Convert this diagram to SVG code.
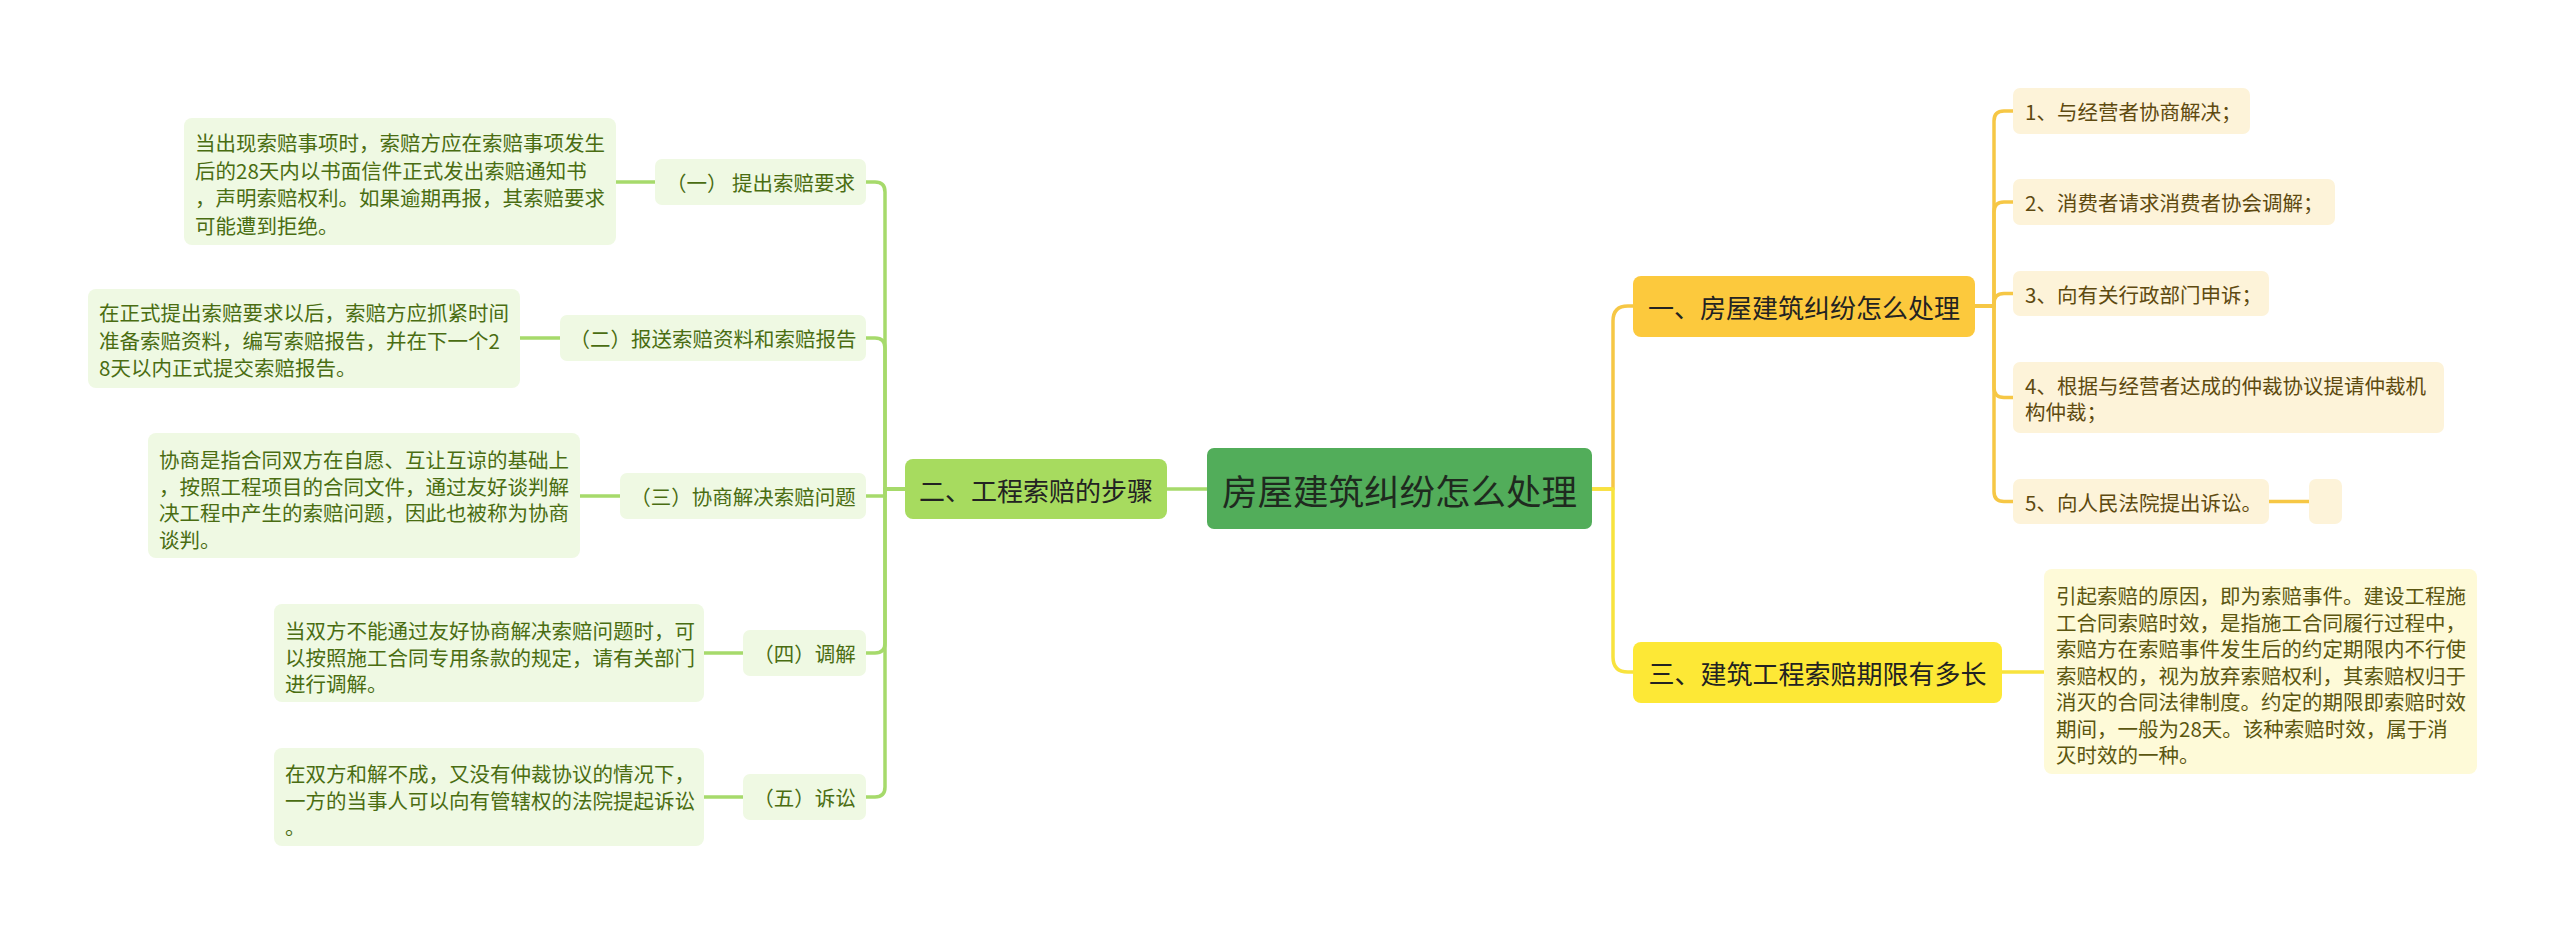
<svg xmlns="http://www.w3.org/2000/svg" width="2560" height="935" viewBox="0 0 2560 935">
<style>
text{font-family:"Noto Sans CJK SC","Noto Sans",sans-serif;dominant-baseline:central}
.root rect{fill:#52ad5a}
.root text{font-size:35.5px;fill:#1f2a1f;text-anchor:middle}
.b1 rect{fill:#fcc93d}
.b3 rect{fill:#fde836}
.b2 rect{fill:#a7db5f}
.br text{font-size:26px;fill:#222;text-anchor:middle}
.it rect{fill:#fdf3d9}
.it text{font-size:20.5px;fill:#5e4a10}
.yd rect{fill:#fefad8}
.yd text{font-size:20.5px;fill:#5b5610}
.gs rect{fill:#eff9e3}
.gs text{font-size:20.5px;fill:#4a6d12;text-anchor:middle}
.gd rect{fill:#eff9e3}
.gd text{font-size:20.5px;fill:#4a6d12}
.c path{fill:none;stroke-width:3.5;stroke-linecap:round;stroke-linejoin:round}
.cg path{stroke:#a6da6b}
.co path{stroke:#f6c745}
.cy path{stroke:#f8e33e}
</style>
<rect width="2560" height="935" fill="#ffffff"/>
<g id="connectors" class="c">
<g class="cg">
<path d="M1207,489 H1167"/>
<path d="M905,489 H885 V192 Q885,182 875,182 H866"/>
<path d="M905,489 H885 V348 Q885,338 875,338 H866"/>
<path d="M905,489 H885 V496 H866"/>
<path d="M905,489 H885 V643 Q885,653 875,653 H866"/>
<path d="M905,489 H885 V787 Q885,797 875,797 H866"/>
<path d="M655,182 H616"/>
<path d="M560,338 H520"/>
<path d="M620,496 H580"/>
<path d="M743,653 H704"/>
<path d="M743,797 H704"/>
</g>
<g class="co">
<path d="M1592,489 H1613 V321 Q1613,306 1628,306 H1633"/>
<path d="M1975,306 H1994 V121 Q1994,111 2004,111 H2013"/>
<path d="M1975,306 H1994 V212 Q1994,202 2004,202 H2013"/>
<path d="M1975,306 H1994 V303.5 Q1994,293.5 2004,293.5 H2013"/>
<path d="M1975,306 H1994 V387.5 Q1994,397.5 2004,397.5 H2013"/>
<path d="M1975,306 H1994 V491.5 Q1994,501.5 2004,501.5 H2013"/>
<path d="M2269,501.5 H2309"/>
</g>
<g class="cy">
<path d="M1592,489 H1613 V657 Q1613,672 1628,672 H1633"/>
<path d="M2002,672 H2044"/>
</g>
</g>
<g id="root" class="root"><rect x="1207" y="448" width="385" height="81" rx="7"/><text x="1399.5" y="489">房屋建筑纠纷怎么处理</text></g>
<g id="b1" class="br b1"><rect x="1633" y="276" width="342" height="61" rx="8"/><text x="1804" y="306.5">一、房屋建筑纠纷怎么处理</text></g>
<g id="b3" class="br b3"><rect x="1633" y="642" width="369" height="61" rx="8"/><text x="1817.5" y="672.5">三、建筑工程索赔期限有多长</text></g>
<g id="b2" class="br b2"><rect x="905" y="459" width="262" height="60" rx="8"/><text x="1036" y="489">二、工程索赔的步骤</text></g>
<g id="i1" class="it"><rect x="2013" y="88" width="237" height="46" rx="7"/><text x="2025" y="111">1、与经营者协商解决；</text></g>
<g id="i2" class="it"><rect x="2013" y="179" width="322" height="46" rx="7"/><text x="2025" y="202">2、消费者请求消费者协会调解；</text></g>
<g id="i3" class="it"><rect x="2013" y="271" width="256" height="45" rx="7"/><text x="2025" y="293.5">3、向有关行政部门申诉；</text></g>
<g id="i4" class="it"><rect x="2013" y="362" width="431" height="71" rx="7"/><text x="2025" y="385">4、根据与经营者达成的仲裁协议提请仲裁机</text><text x="2025" y="411">构仲裁；</text></g>
<g id="i5" class="it"><rect x="2013" y="479" width="256" height="45" rx="7"/><text x="2025" y="501.5">5、向人民法院提出诉讼。</text></g>
<g id="i5e" class="it"><rect x="2309" y="479" width="33" height="45" rx="7"/></g>
<g id="d3" class="yd"><rect x="2044" y="569" width="433" height="205" rx="8"/>
<text x="2056" y="595">引起索赔的原因，即为索赔事件。建设工程施</text>
<text x="2056" y="621.5">工合同索赔时效，是指施工合同履行过程中，</text>
<text x="2056" y="648">索赔方在索赔事件发生后的约定期限内不行使</text>
<text x="2056" y="674.5">索赔权的，视为放弃索赔权利，其索赔权归于</text>
<text x="2056" y="701">消灭的合同法律制度。约定的期限即索赔时效</text>
<text x="2056" y="727.5">期间，一般为28天。该种索赔时效，属于消</text>
<text x="2056" y="754">灭时效的一种。</text>
</g>
<g id="s1" class="gs"><rect x="655" y="159" width="211" height="46" rx="7"/><text x="760.5" y="182">（一） 提出索赔要求</text></g>
<g id="s2" class="gs"><rect x="560" y="315" width="306" height="46" rx="7"/><text x="713" y="338">（二）报送索赔资料和索赔报告</text></g>
<g id="s3" class="gs"><rect x="620" y="473" width="246" height="46" rx="7"/><text x="743" y="496">（三）协商解决索赔问题</text></g>
<g id="s4" class="gs"><rect x="743" y="630" width="123" height="46" rx="7"/><text x="804.5" y="653">（四）调解</text></g>
<g id="s5" class="gs"><rect x="743" y="774" width="123" height="46" rx="7"/><text x="804.5" y="797">（五）诉讼</text></g>
<g id="g1" class="gd"><rect x="184" y="118" width="432" height="127" rx="8"/>
<text x="195" y="142">当出现索赔事项时，索赔方应在索赔事项发生</text>
<text x="195" y="169.5">后的28天内以书面信件正式发出索赔通知书</text>
<text x="195" y="197">，声明索赔权利。如果逾期再报，其索赔要求</text>
<text x="195" y="224.5">可能遭到拒绝。</text>
</g>
<g id="g2" class="gd"><rect x="88" y="289" width="432" height="99" rx="8"/>
<text x="99" y="312">在正式提出索赔要求以后，索赔方应抓紧时间</text>
<text x="99" y="339.5">准备索赔资料，编写索赔报告，并在下一个2</text>
<text x="99" y="367">8天以内正式提交索赔报告。</text>
</g>
<g id="g3" class="gd"><rect x="148" y="433" width="432" height="125" rx="8"/>
<text x="159" y="459">协商是指合同双方在自愿、互让互谅的基础上</text>
<text x="159" y="485.5">，按照工程项目的合同文件，通过友好谈判解</text>
<text x="159" y="512">决工程中产生的索赔问题，因此也被称为协商</text>
<text x="159" y="538.5">谈判。</text>
</g>
<g id="g4" class="gd"><rect x="274" y="604" width="430" height="98" rx="8"/>
<text x="285" y="630">当双方不能通过友好协商解决索赔问题时，可</text>
<text x="285" y="656.5">以按照施工合同专用条款的规定，请有关部门</text>
<text x="285" y="683">进行调解。</text>
</g>
<g id="g5" class="gd"><rect x="274" y="748" width="430" height="98" rx="8"/>
<text x="285" y="773">在双方和解不成，又没有仲裁协议的情况下，</text>
<text x="285" y="799.5">一方的当事人可以向有管辖权的法院提起诉讼</text>
<text x="285" y="826">。</text>
</g>
</svg>
